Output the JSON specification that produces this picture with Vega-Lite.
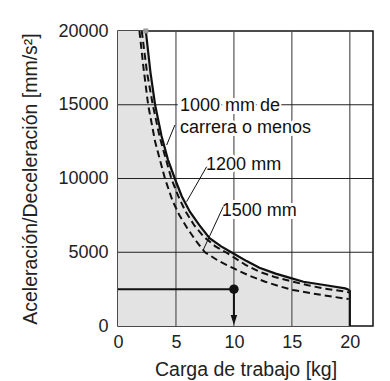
{
  "$schema": "https://vega.github.io/schema/vega-lite/v6.json",
  "width": 255,
  "height": 295,
  "autosize": "none",
  "padding": {"left": 118, "top": 31, "right": 17, "bottom": 55},
  "background": "white",
  "config": {
    "view": {"stroke": "#111", "strokeWidth": 1.5},
    "font": "Liberation Sans",
    "axis": {
      "labelFontSize": 18, "titleFontSize": 19.5, "titleFontWeight": "normal",
      "labelColor": "#222", "titleColor": "#222", "ticks": false, "domain": false,
      "grid": false, "labelFlush": false, "labelOverlap": false
    }
  },
  "datasets": {
    "area": [
      {"x": 0, "y": 20000}, {"x": 2.4, "y": 20000}, {"x": 2.8, "y": 17200}, {"x": 3.2, "y": 15000},
      {"x": 3.75, "y": 12900}, {"x": 4.3, "y": 11300}, {"x": 4.9, "y": 10000}, {"x": 5.5, "y": 8800},
      {"x": 6.2, "y": 7750}, {"x": 7.0, "y": 6850}, {"x": 7.9, "y": 5950}, {"x": 8.9, "y": 5400},
      {"x": 10, "y": 4900}, {"x": 11.1, "y": 4400}, {"x": 12.2, "y": 3950}, {"x": 13.6, "y": 3550},
      {"x": 15, "y": 3230}, {"x": 16, "y": 3000}, {"x": 17.8, "y": 2780}, {"x": 19.6, "y": 2550},
      {"x": 19.85, "y": 2480}, {"x": 20, "y": 2380}
    ],
    "solid": [
      {"i": 1, "x": 2.4, "y": 20000}, {"i": 2, "x": 2.8, "y": 17200}, {"i": 3, "x": 3.2, "y": 15000},
      {"i": 4, "x": 3.75, "y": 12900}, {"i": 5, "x": 4.3, "y": 11300}, {"i": 6, "x": 4.9, "y": 10000},
      {"i": 7, "x": 5.5, "y": 8800}, {"i": 8, "x": 6.2, "y": 7750}, {"i": 9, "x": 7.0, "y": 6850},
      {"i": 10, "x": 7.9, "y": 5950}, {"i": 11, "x": 8.9, "y": 5400}, {"i": 12, "x": 10, "y": 4900},
      {"i": 13, "x": 11.1, "y": 4400}, {"i": 14, "x": 12.2, "y": 3950}, {"i": 15, "x": 13.6, "y": 3550},
      {"i": 16, "x": 15, "y": 3230}, {"i": 17, "x": 16, "y": 3000}, {"i": 18, "x": 17.8, "y": 2780},
      {"i": 19, "x": 19.6, "y": 2550}, {"i": 20, "x": 19.85, "y": 2480}, {"i": 21, "x": 20, "y": 2380},
      {"i": 22, "x": 20, "y": 0}
    ],
    "dashed": [
      {"s": "1200", "x": 2.05, "y": 20000}, {"s": "1200", "x": 2.5, "y": 17200}, {"s": "1200", "x": 3.0, "y": 15000},
      {"s": "1200", "x": 3.6, "y": 12800}, {"s": "1200", "x": 4.6, "y": 10000}, {"s": "1200", "x": 5.2, "y": 8800},
      {"s": "1200", "x": 5.8, "y": 7800}, {"s": "1200", "x": 6.6, "y": 6800}, {"s": "1200", "x": 7.4, "y": 6050},
      {"s": "1200", "x": 8.4, "y": 5400}, {"s": "1200", "x": 9.4, "y": 4950}, {"s": "1200", "x": 10, "y": 4650},
      {"s": "1200", "x": 11, "y": 4150}, {"s": "1200", "x": 12.2, "y": 3680}, {"s": "1200", "x": 13.6, "y": 3300},
      {"s": "1200", "x": 15.1, "y": 3000}, {"s": "1200", "x": 16.4, "y": 2760}, {"s": "1200", "x": 17.7, "y": 2550},
      {"s": "1200", "x": 19.7, "y": 2330}, {"s": "1200", "x": 19.95, "y": 2260},
      {"s": "1500", "x": 1.85, "y": 20000}, {"s": "1500", "x": 2.2, "y": 17500}, {"s": "1500", "x": 2.6, "y": 15000},
      {"s": "1500", "x": 3.2, "y": 12500}, {"s": "1500", "x": 4.05, "y": 10000}, {"s": "1500", "x": 4.7, "y": 8500},
      {"s": "1500", "x": 5.3, "y": 7500}, {"s": "1500", "x": 6.0, "y": 6600}, {"s": "1500", "x": 6.7, "y": 5800},
      {"s": "1500", "x": 7.5, "y": 5000}, {"s": "1500", "x": 8.7, "y": 4400}, {"s": "1500", "x": 10, "y": 3900},
      {"s": "1500", "x": 11.3, "y": 3420}, {"s": "1500", "x": 12.7, "y": 3000}, {"s": "1500", "x": 13.9, "y": 2700},
      {"s": "1500", "x": 15.1, "y": 2440}, {"s": "1500", "x": 17.2, "y": 2150}, {"s": "1500", "x": 19.4, "y": 1880},
      {"s": "1500", "x": 19.9, "y": 1830}
    ],
    "vgrid": [{"x": 5}, {"x": 10}, {"x": 15}, {"x": 20}],
    "hgrid": [{"y": 5000}, {"y": 10000}, {"y": 15000}],
    "labels": [
      {"t": "1000 mm de", "x": 5.35, "y": 14900},
      {"t": "carrera o menos", "x": 5.35, "y": 13400},
      {"t": "1200 mm", "x": 7.6, "y": 10900},
      {"t": "1500 mm", "x": 8.95, "y": 7820}
    ],
    "leaders": [
      {"x": 4.2, "y": 12270, "x2": 4.91, "y2": 13630},
      {"x": 5.92, "y": 8430, "x2": 7.65, "y2": 10800},
      {"x": 7.35, "y": 5150, "x2": 9.08, "y2": 8090}
    ],
    "example": [{"x": 10, "y": 2500}],
    "hline": [{"x": 0, "x2": 10, "y": 2500}],
    "vline": [{"x": 10, "y": 2500, "y2": 600}],
    "arrow": [{"x": 10, "y": 407}],
    "top": [{"x": 2.4, "y": 20000}]
  },
  "layer": [
    {
      "data": {"name": "area"},
      "mark": {"type": "area", "color": "#e3e3e3"},
      "encoding": {
        "x": {"field": "x", "type": "quantitative",
              "scale": {"domain": [0, 22], "nice": false, "zero": false},
              "axis": {"values": [0, 5, 10, 15, 20], "labelPadding": 7, "titlePadding": 9, "title": "Carga de trabajo [kg]"}},
        "y": {"field": "y", "type": "quantitative",
              "scale": {"domain": [0, 20000], "nice": false},
              "axis": {"values": [0, 5000, 10000, 15000, 20000], "format": "d", "labelPadding": 10, "titlePadding": 17, "title": "Aceleración/Deceleración [mm/s²]"}}
      }
    },
    {
      "data": {"name": "vgrid"},
      "mark": {"type": "rule", "color": "#555", "strokeWidth": 1.2},
      "encoding": {"x": {"field": "x", "type": "quantitative"}}
    },
    {
      "data": {"name": "hgrid"},
      "mark": {"type": "rule", "color": "#222", "strokeWidth": 1.2},
      "encoding": {"y": {"field": "y", "type": "quantitative"}}
    },
    {
      "data": {"name": "labels"},
      "mark": {"type": "text", "align": "left", "baseline": "middle", "fontSize": 18, "stroke": "white", "strokeWidth": 6, "fill": "white", "dx": -1},
      "encoding": {"x": {"field": "x", "type": "quantitative"}, "y": {"field": "y", "type": "quantitative"}, "text": {"field": "t"}}
    },
    {
      "data": {"name": "dashed"},
      "mark": {"type": "line", "color": "#111", "strokeWidth": 2, "strokeDash": [7, 4]},
      "encoding": {"x": {"field": "x", "type": "quantitative"}, "y": {"field": "y", "type": "quantitative"}, "detail": {"field": "s"}}
    },
    {
      "data": {"name": "solid"},
      "mark": {"type": "line", "color": "#111", "strokeWidth": 2.2},
      "encoding": {"x": {"field": "x", "type": "quantitative"}, "y": {"field": "y", "type": "quantitative"}, "order": {"field": "i", "type": "quantitative"}}
    },
    {
      "data": {"name": "leaders"},
      "mark": {"type": "rule", "color": "#111", "strokeWidth": 1},
      "encoding": {"x": {"field": "x", "type": "quantitative"}, "y": {"field": "y", "type": "quantitative"}, "x2": {"field": "x2"}, "y2": {"field": "y2"}}
    },
    {
      "data": {"name": "labels"},
      "mark": {"type": "text", "align": "left", "baseline": "middle", "fontSize": 18, "fill": "#111"},
      "encoding": {"x": {"field": "x", "type": "quantitative"}, "y": {"field": "y", "type": "quantitative"}, "text": {"field": "t"}}
    },
    {
      "data": {"name": "hline"},
      "mark": {"type": "rule", "color": "#111", "strokeWidth": 2},
      "encoding": {"x": {"field": "x", "type": "quantitative"}, "x2": {"field": "x2"}, "y": {"field": "y", "type": "quantitative"}}
    },
    {
      "data": {"name": "vline"},
      "mark": {"type": "rule", "color": "#111", "strokeWidth": 2},
      "encoding": {"x": {"field": "x", "type": "quantitative"}, "y": {"field": "y", "type": "quantitative"}, "y2": {"field": "y2"}}
    },
    {
      "data": {"name": "arrow"},
      "mark": {"type": "point", "shape": "M-0.65,-1L0.65,-1L0,1Z", "size": 100, "filled": true, "color": "#111", "opacity": 1},
      "encoding": {"x": {"field": "x", "type": "quantitative"}, "y": {"field": "y", "type": "quantitative"}}
    },
    {
      "data": {"name": "example"},
      "mark": {"type": "circle", "size": 90, "color": "#111", "opacity": 1},
      "encoding": {"x": {"field": "x", "type": "quantitative"}, "y": {"field": "y", "type": "quantitative"}}
    },
    {
      "data": {"name": "top"},
      "mark": {"type": "square", "size": 25, "color": "#999", "opacity": 1},
      "encoding": {"x": {"field": "x", "type": "quantitative"}, "y": {"field": "y", "type": "quantitative"}}
    }
  ]
}
